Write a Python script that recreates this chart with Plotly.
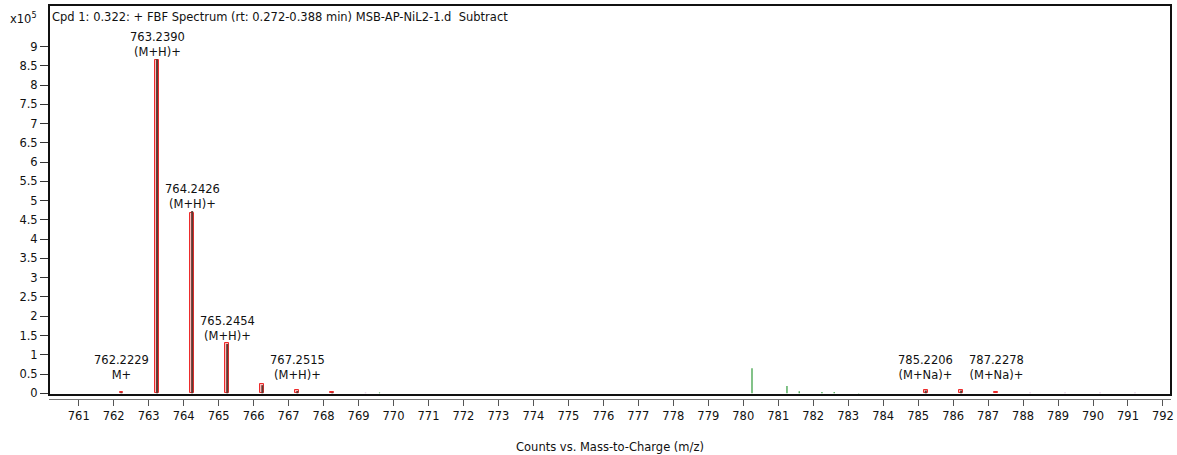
import plotly.graph_objects as go

# ---- data (intensities in units of 1e5 counts) ----
pred_mz = [762.2229, 763.2390, 764.2426, 765.2454, 766.25, 767.2515, 768.25, 785.2206, 786.22, 787.2278]
pred_int = [0.03, 8.65, 4.69, 1.30, 0.23, 0.08, 0.03, 0.08, 0.08, 0.04]

meas_mz = [762.22, 763.239, 764.2426, 765.2454, 766.25, 767.25, 768.25, 785.22, 786.23]
meas_int = [0.02, 8.67, 4.73, 1.28, 0.21, 0.06, 0.02, 0.07, 0.07]

green_mz = [769.6, 780.25, 781.25, 781.6, 782.25, 782.6, 783.3]
green_int = [0.02, 0.65, 0.19, 0.05, 0.03, 0.03, 0.01]

other_mz = [769.2, 788.2, 789.2, 790.2, 791.2]
other_int = [0.02, 0.02, 0.02, 0.02, 0.02]

label_mz = [762.2229, 763.2390, 764.2426, 765.2454, 767.2515, 785.2206, 787.2278]
label_int = [0.03, 8.67, 4.73, 1.30, 0.08, 0.08, 0.04]
label_ion = ["M+", "(M+H)+", "(M+H)+", "(M+H)+", "(M+H)+", "(M+Na)+", "(M+Na)+"]

x_ticks = list(range(761, 793))
y_ticks = [i * 0.5 for i in range(0, 19)]

title_text = "Cpd 1: 0.322: + FBF Spectrum (rt: 0.272-0.388 min) MSB-AP-NiL2-1.d \u00a0Subtract"
x_title = "Counts vs. Mass-to-Charge (m/z)"

FONT = "DejaVu Sans, Verdana, sans-serif"
FS = 11.5


def stems(xs, ys):
    X, Y = [], []
    for a, b in zip(xs, ys):
        X += [a, a, None]
        Y += [0, b, None]
    return X, Y


fig = go.Figure()

fig.add_trace(go.Bar(
    x=pred_mz, y=pred_int, width=0.11,
    marker=dict(color="rgba(255,140,140,0.6)", line=dict(color="#ee2b2b", width=1)),
    hoverinfo="x+y", showlegend=False,
))

for xs, ys, col, w in [
    (meas_mz, meas_int, "#5e3a32", 2.0),
    (green_mz, green_int, "#2f9a3a", 1.2),
    (other_mz, other_int, "#d8b0d8", 1.5),
]:
    X, Y = stems(xs, ys)
    fig.add_trace(go.Scatter(x=X, y=Y, mode="lines", line=dict(color=col, width=w),
                             showlegend=False, hoverinfo="skip"))

label_floor = 0.30
for m, h, ion in zip(label_mz, label_int, label_ion):
    fig.add_annotation(
        x=m, y=max(h, label_floor), xref="x", yref="y",
        text=f"{m:.4f}<br>{ion}", showarrow=False,
        xanchor="center", yanchor="bottom", yshift=-2,
        font=dict(family=FONT, size=FS, color="#111"),
    )

# title inside plot
fig.add_annotation(
    x=0, y=1, xref="paper", yref="paper", xanchor="left", yanchor="top",
    xshift=1, yshift=-3, text=title_text, showarrow=False,
    font=dict(family=FONT, size=FS, color="#111"),
)
# x10^5 label
fig.add_annotation(
    x=0, y=1, xref="paper", yref="paper", xanchor="right", yanchor="top",
    xshift=-10, yshift=-4, text="x10<sup>5</sup>", showarrow=False,
    font=dict(family=FONT, size=FS, color="#111"),
)

H = 455
mt, mb = 5, 56
plot_h = H - mt - mb
dom0 = 4 / plot_h

fig.update_layout(
    width=1177, height=H,
    margin=dict(l=49, r=3, t=mt, b=mb),
    paper_bgcolor="white", plot_bgcolor="white",
    bargap=0,
    font=dict(family=FONT, size=FS, color="#111"),
    xaxis=dict(
        range=[760.15, 792.23], tickvals=x_ticks, ticktext=[str(v) for v in x_ticks],
        showgrid=False, zeroline=False, showline=True, linecolor="#777", linewidth=1,
        ticks="outside", ticklen=6, tickcolor="#555", anchor="free", position=0,
        tickfont=dict(family=FONT, size=FS, color="#111"),
        title=dict(text=x_title, font=dict(family=FONT, size=FS, color="#111"), standoff=21),
    ),
    yaxis=dict(
        range=[-0.045, 10.08], domain=[dom0, 1], tickvals=y_ticks,
        ticktext=[("%g" % v) for v in y_ticks],
        showgrid=False, zeroline=False, showline=False,
        ticks="outside", ticklen=8, tickcolor="#333",
        tickfont=dict(family=FONT, size=FS, color="#111"),
    ),
    shapes=[dict(type="rect", xref="paper", yref="paper", x0=0, x1=1, y0=dom0, y1=1,
                 line=dict(color="#111", width=2), layer="above")],
)

fig.write_html("out.html")
